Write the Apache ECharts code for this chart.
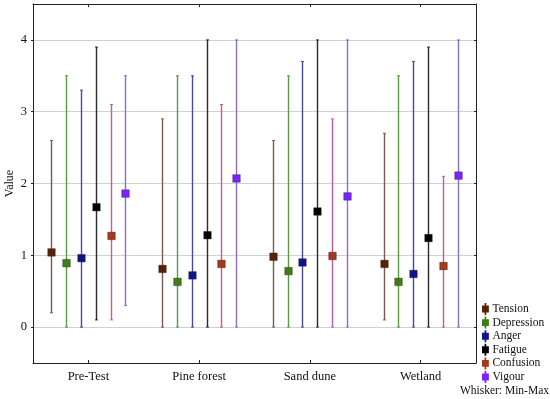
<!DOCTYPE html>
<html><head><meta charset="utf-8">
<script src="https://cdn.jsdelivr.net/npm/echarts@6/dist/echarts.min.js"></script>
<style>html,body{margin:0;padding:0;background:#fff}#c{width:550px;height:399px}</style>
</head><body><div id="c"></div>
<script>
var categories = ['Pre-Test', 'Pine forest', 'Sand dune', 'Wetland'];
var seriesNames = ['Tension', 'Depression', 'Anger', 'Fatigue', 'Confusion', 'Vigour'];
var tensionMean = [1.04, 0.81, 0.98, 0.88];
var tensionMin = [0.2, 0, 0, 0.1];
var tensionMax = [2.6, 2.9, 2.6, 2.7];
var depressionMean = [0.89, 0.63, 0.78, 0.63];
var depressionMin = [0, 0, 0, 0];
var depressionMax = [3.5, 3.5, 3.5, 3.5];
var angerMean = [0.96, 0.72, 0.90, 0.74];
var angerMin = [0, 0, 0, 0];
var angerMax = [3.3, 3.5, 3.7, 3.7];
var fatigueMean = [1.67, 1.28, 1.61, 1.24];
var fatigueMin = [0.1, 0, 0, 0];
var fatigueMax = [3.9, 4.0, 4.0, 3.9];
var confusionMean = [1.27, 0.88, 0.99, 0.85];
var confusionMin = [0.1, 0, 0, 0];
var confusionMax = [3.1, 3.1, 2.9, 2.1];
var vigourMean = [1.86, 2.07, 1.82, 2.11];
var vigourMin = [0.3, 0, 0, 0];
var vigourMax = [3.5, 4.0, 4.0, 4.0];

var means = [tensionMean, depressionMean, angerMean, fatigueMean, confusionMean, vigourMean];
var mins = [tensionMin, depressionMin, angerMin, fatigueMin, confusionMin, vigourMin];
var maxs = [tensionMax, depressionMax, angerMax, fatigueMax, confusionMax, vigourMax];

var markerColors = ['#5a2008', '#3d7f12', '#10148c', '#000000', '#a8381a', '#7a22ff'];
var lineColors = ['#7a5a4c', '#5d9a45', '#4848a0', '#2a2a2a', '#c45aa0', '#8a6cd4'];

var FONT = '"Liberation Serif", "DejaVu Serif", serif';

var series = seriesNames.map(function (name, i) {
  var data = categories.map(function (c, k) { return [k, means[i][k], mins[i][k], maxs[i][k]]; });
  return {
    name: name,
    type: 'custom',
    itemStyle: { color: markerColors[i] },
    data: data,
    encode: { x: 0, y: [1, 2, 3] },
    renderItem: function (params, api) {
      var band = api.size([1, 0])[0];
      var off = (i - 2.5) * band * 0.1336;
      var pMean = api.coord([api.value(0), api.value(1)]);
      var pMin = api.coord([api.value(0), api.value(2)]);
      var pMax = api.coord([api.value(0), api.value(3)]);
      var x = Math.round(pMean[0] + off) + 0.5;
      var lc = lineColors[i];
      var cap = 1.5;
      var s = 7.5;
      return {
        type: 'group',
        children: [
          { type: 'line', shape: { x1: x, y1: pMin[1], x2: x, y2: pMax[1] }, style: { stroke: lc, lineWidth: 1.4 } },
          { type: 'line', shape: { x1: x - cap, y1: pMin[1], x2: x + cap, y2: pMin[1] }, style: { stroke: lc, lineWidth: 1 } },
          { type: 'line', shape: { x1: x - cap, y1: pMax[1], x2: x + cap, y2: pMax[1] }, style: { stroke: lc, lineWidth: 1 } },
          { type: 'rect', shape: { x: x - s / 2, y: pMean[1] - s / 2, width: s, height: s }, style: { fill: markerColors[i], stroke: '#222', lineWidth: 0.4 } }
        ]
      };
    }
  };
});

var chart = echarts.init(document.getElementById('c'), null, { renderer: 'canvas' });
var legendIcon = 'path://M3,0h2v3h3v8h-3v3h-2v-3h-3v-8h3z';
chart.setOption({
  animation: false,
  backgroundColor: '#fff',
  grid: { left: 33, right: 74, top: 4, bottom: 36, show: false, containLabel: false, outerBoundsMode: 'none' },
  legend: {
    orient: 'vertical',
    left: 477,
    top: 298,
    itemWidth: 8,
    itemHeight: 12,
    itemGap: 1.6,
    data: seriesNames.map(function (n) { return { name: n, icon: legendIcon }; }),
    textStyle: { fontFamily: FONT, fontSize: 11.5, color: '#111', padding: [0, 0, 0, -2] },
    selectedMode: false
  },
  graphic: [{
    type: 'text', right: 1, top: 385,
    style: { text: 'Whisker: Min-Max', fontFamily: FONT, fontSize: 11.5, fill: '#111' }
  }],
  xAxis: [{
    type: 'category', data: categories, position: 'bottom',
    axisLine: { show: true, onZero: false, lineStyle: { color: '#222', width: 1 } },
    axisTick: { show: true, alignWithLabel: true, inside: true, length: 3, lineStyle: { color: '#222' } },
    axisLabel: { fontFamily: FONT, fontSize: 12.5, color: '#111', margin: 7 },
    splitLine: { show: false }
  }, {
    type: 'category', data: categories, position: 'top',
    axisLine: { show: true, onZero: false, lineStyle: { color: '#222', width: 1 } },
    axisTick: { show: true, alignWithLabel: true, inside: true, length: 3, lineStyle: { color: '#222' } },
    axisLabel: { show: false },
    splitLine: { show: false }
  }],
  yAxis: [{
    type: 'value', min: -0.5, max: 4.5, splitNumber: 5,
    name: 'Value', nameLocation: 'middle', nameGap: 17, nameMoveOverlap: false,
    nameTextStyle: { fontFamily: FONT, fontSize: 12, color: '#111' },
    axisLine: { show: true, onZero: false, lineStyle: { color: '#222', width: 1 } },
    axisTick: { show: true, inside: false, length: 2, lineStyle: { color: '#222' } },
    axisLabel: { fontFamily: FONT, fontSize: 12.5, color: '#111', margin: 6, showMinLabel: false, showMaxLabel: false,
      formatter: function (v) { return Math.abs(v - Math.round(v)) < 1e-6 ? String(Math.round(v)) : ''; } },
    splitLine: { show: true, lineStyle: { color: '#d0d0d0', width: 1 } }
  }, {
    type: 'value', min: -0.5, max: 4.5, splitNumber: 5, position: 'right',
    axisLine: { show: true, onZero: false, lineStyle: { color: '#222', width: 1 } },
    axisTick: { show: true, inside: true, length: 2, lineStyle: { color: '#222' } },
    axisLabel: { show: false },
    splitLine: { show: false }
  }],
  series: series
});
</script></body></html>
